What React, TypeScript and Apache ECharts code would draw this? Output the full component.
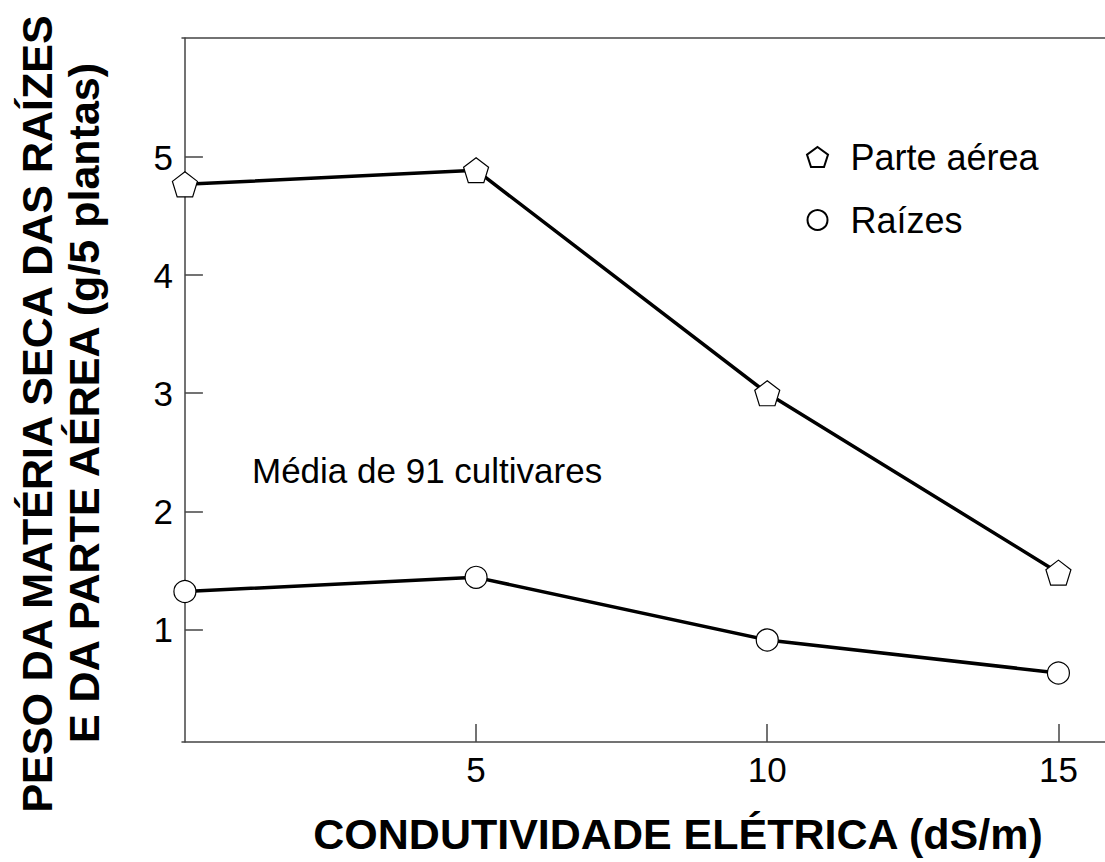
import React, { useEffect, useRef } from "react";
import * as echarts from "echarts";

const conductivity = [0, 5, 10, 15];
const parteAerea = [4.77, 4.89, 3.0, 1.48];
const raizes = [1.32, 1.44, 0.91, 0.63];
const xTicks = [5, 10, 15];
const yTicks = [1, 2, 3, 4, 5];

const FONT = "'Liberation Sans', Arial, sans-serif";
const PENTAGON = "path://M0,-10 L9.51,-3.09 L5.88,8.09 L-5.88,8.09 L-9.51,-3.09 Z";

export default function App() {
  const ref = useRef<HTMLDivElement>(null);
  useEffect(() => {
    if (!ref.current) return;
    const chart = echarts.init(ref.current, null, { renderer: "svg" });
    const axisColor = "#444";
    chart.setOption({
      animation: false,
      backgroundColor: "#fff",
      grid: { left: 182, top: 38, right: 0, bottom: 120 },
      xAxis: [
        {
          type: "value",
          min: -0.05,
          max: 15.8,
          axisLine: { show: true, lineStyle: { color: axisColor, width: 1.5 } },
          axisTick: { show: true, inside: true, length: 18, customValues: xTicks, lineStyle: { color: axisColor, width: 1.5 } },
          axisLabel: { show: true, customValues: xTicks, fontSize: 35, color: "#000", fontFamily: FONT, margin: 10 },
          splitLine: { show: false },
        },
        {
          type: "value",
          position: "top",
          min: -0.05,
          max: 15.8,
          axisLine: { show: true, lineStyle: { color: axisColor, width: 1.5 } },
          axisTick: { show: false },
          axisLabel: { show: false },
          splitLine: { show: false },
        },
      ],
      yAxis: {
        type: "value",
        min: 0.045,
        max: 6.01,
        axisLine: { show: true, lineStyle: { color: axisColor, width: 1.5 } },
        axisTick: { show: true, inside: true, length: 18, customValues: yTicks, lineStyle: { color: axisColor, width: 1.5 } },
        axisLabel: { show: true, customValues: yTicks, fontSize: 35, color: "#000", fontFamily: FONT, margin: 9 },
        splitLine: { show: false },
      },
      legend: {
        orient: "vertical",
        left: 806,
        top: 139,
        padding: 0,
        itemGap: 27,
        itemWidth: 22,
        itemHeight: 20,
        textStyle: { fontSize: 36, color: "#000", fontFamily: FONT, padding: [0, 0, 0, 17] },
        data: [
          { name: "Parte aérea", icon: PENTAGON },
          { name: "Raízes", icon: "circle" },
        ],
      },
      series: [
        {
          name: "Parte aérea",
          type: "line",
          data: conductivity.map((x, i) => [x, parteAerea[i]]),
          symbol: PENTAGON,
          symbolSize: 25,
          lineStyle: { color: "#000", width: 3.5 },
          itemStyle: { color: "#fff", borderColor: "#000", borderWidth: 1.2 },
          z: 3,
        },
        {
          name: "Raízes",
          type: "line",
          data: conductivity.map((x, i) => [x, raizes[i]]),
          symbol: "circle",
          symbolSize: 22,
          lineStyle: { color: "#000", width: 3.5 },
          itemStyle: { color: "#fff", borderColor: "#000", borderWidth: 1.2 },
          z: 3,
        },
      ],
      graphic: [
        {
          type: "text",
          left: 252,
          top: 453,
          style: { text: "Média de 91 cultivares", fontSize: 35, fill: "#000", fontFamily: FONT },
        },
        {
          type: "text",
          x: 678,
          y: 834,
          style: {
            text: "CONDUTIVIDADE ELÉTRICA (dS/m)",
            fontSize: 43,
            fontWeight: "bold",
            fill: "#000",
            fontFamily: FONT,
            align: "center",
            verticalAlign: "middle",
          },
        },
        {
          type: "text",
          x: 37,
          y: 414,
          rotation: Math.PI / 2,
          style: {
            text: "PESO DA MATÉRIA SECA DAS RAÍZES",
            fontSize: 43,
            fontWeight: "bold",
            fill: "#000",
            fontFamily: FONT,
            align: "center",
            verticalAlign: "middle",
          },
        },
        {
          type: "text",
          x: 84,
          y: 403,
          rotation: Math.PI / 2,
          style: {
            text: "E DA PARTE AÉREA (g/5 plantas)",
            fontSize: 43,
            fontWeight: "bold",
            fill: "#000",
            fontFamily: FONT,
            align: "center",
            verticalAlign: "middle",
          },
        },
      ],
    });
    return () => chart.dispose();
  }, []);
  return (
    <div
      ref={ref}
      style={{ position: "absolute", left: 0, top: 0, width: 1105, height: 862 }}
    />
  );
}
